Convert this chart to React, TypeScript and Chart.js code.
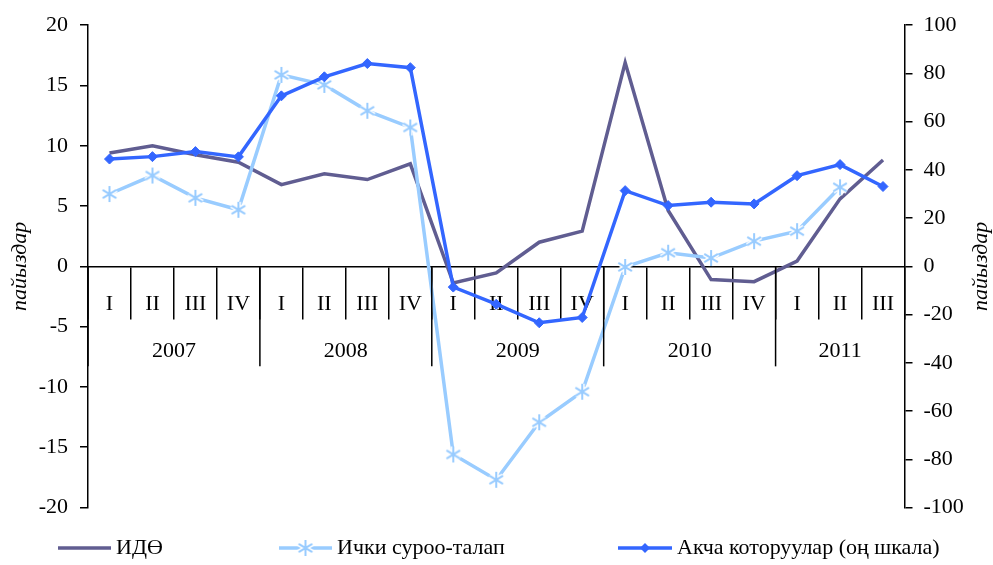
import React, { useEffect, useRef } from "react";
import { Chart, registerables } from "chart.js";

Chart.register(...registerables);

const quarters = ["I", "II", "III", "IV", "I", "II", "III", "IV", "I", "II", "III", "IV", "I", "II", "III", "IV", "I", "II", "III"];
const years = ["2007", "2008", "2009", "2010", "2011"];
const yearQuarterCounts = [4, 4, 4, 4, 3];

const gdp = [9.4, 10.0, 9.26, 8.63, 6.78, 7.67, 7.2, 8.5, -1.38, -0.55, 2.0, 2.92, 16.9, 4.63, -1.1, -1.27, 0.44, 5.6, 8.82];
const domesticDemand = [6.0, 7.53, 5.68, 4.69, 15.88, 15.05, 12.9, 11.52, -15.6, -17.7, -12.93, -10.4, -0.05, 1.13, 0.69, 2.09, 2.92, 6.56, null];
const remittances = [44.5, 45.5, 47.6, 45.4, 70.7, 78.6, 84.1, 82.4, -8.6, -15.7, -23.4, -21.2, 31.4, 25.2, 26.6, 25.9, 37.6, 42.2, 33.1];

const seriesNames = ["ИДӨ", "Ички суроо-талап", "Акча которуулар (оң шкала)"];
const axisTitle = "пайыздар";

const COL_GDP = "#605d91";
const COL_DEM = "#99ccff";
const COL_REM = "#3366ff";
const FONT = "'Liberation Serif', 'Times New Roman', serif";
const FS = 22;

function makeStar(size: number): HTMLCanvasElement {
  const c = document.createElement("canvas");
  c.width = size;
  c.height = size;
  const ctx = c.getContext("2d")!;
  const r = size / 2 - 4;
  const cx = size / 2;
  const drawStar = () => {
    ctx.beginPath();
    ctx.moveTo(cx, cx - r);
    ctx.lineTo(cx, cx + r);
    const d = r * 0.85;
    ctx.moveTo(cx - d, cx - d * 0.62);
    ctx.lineTo(cx + d, cx + d * 0.62);
    ctx.moveTo(cx - d, cx + d * 0.62);
    ctx.lineTo(cx + d, cx - d * 0.62);
    ctx.stroke();
  };
  ctx.lineCap = "butt";
  ctx.strokeStyle = "#ffffff";
  ctx.lineWidth = 5;
  drawStar();
  ctx.strokeStyle = COL_DEM;
  ctx.lineWidth = 2;
  drawStar();
  return c;
}

export default function App() {
  const ref = useRef<HTMLCanvasElement | null>(null);

  useEffect(() => {
    if (!ref.current) return;
    const star = makeStar(24);

    const extras = {
      id: "extras",
      afterDraw(chart: any) {
        const ctx = chart.ctx;
        const x = chart.scales.x;
        const y = chart.scales.y;
        const zero = y.getPixelForValue(0);
        ctx.save();
        ctx.strokeStyle = "#000";
        ctx.lineWidth = 1.5;
        ctx.fillStyle = "#000";
        ctx.font = `${FS}px ${FONT}`;
        ctx.textAlign = "center";
        ctx.textBaseline = "middle";
        let start = 0;
        for (let i = 0; i < years.length; i++) {
          const left = x.getPixelForValue(start - 0.5);
          const right = x.getPixelForValue(start + yearQuarterCounts[i] - 0.5);
          ctx.beginPath();
          ctx.moveTo(left, zero);
          ctx.lineTo(left, zero + 100);
          ctx.stroke();
          ctx.fillText(years[i], (left + right) / 2, zero + 85);
          start += yearQuarterCounts[i];
        }
        ctx.font = `italic ${FS}px ${FONT}`;
        const midY = (chart.chartArea.top + chart.chartArea.bottom) / 2;
        [20, 981].forEach((tx) => {
          ctx.save();
          ctx.translate(tx, midY);
          ctx.rotate(-Math.PI / 2);
          ctx.fillText(axisTitle, 0, 0);
          ctx.restore();
        });
        const ly = 548;
        ctx.font = `${FS}px ${FONT}`;
        ctx.textAlign = "left";
        ctx.lineWidth = 3.5;
        ctx.strokeStyle = COL_GDP;
        ctx.beginPath();
        ctx.moveTo(58, ly);
        ctx.lineTo(111, ly);
        ctx.stroke();
        ctx.fillText(seriesNames[0], 116, ly);
        ctx.strokeStyle = COL_DEM;
        ctx.beginPath();
        ctx.moveTo(279, ly);
        ctx.lineTo(332, ly);
        ctx.stroke();
        ctx.drawImage(star, 305.5 - 12, ly - 12);
        ctx.fillText(seriesNames[1], 337, ly);
        ctx.strokeStyle = COL_REM;
        ctx.beginPath();
        ctx.moveTo(618, ly);
        ctx.lineTo(672, ly);
        ctx.stroke();
        ctx.fillStyle = COL_REM;
        ctx.beginPath();
        ctx.moveTo(645, ly - 5);
        ctx.lineTo(650, ly);
        ctx.lineTo(645, ly + 5);
        ctx.lineTo(640, ly);
        ctx.closePath();
        ctx.fill();
        ctx.fillStyle = "#000";
        ctx.fillText(seriesNames[2], 677, ly);
        ctx.restore();
      },
    };

    const chart = new Chart(ref.current, {
      type: "line",
      data: {
        labels: quarters,
        datasets: [
          {
            label: seriesNames[0],
            data: gdp,
            yAxisID: "y",
            borderColor: COL_GDP,
            backgroundColor: COL_GDP,
            borderWidth: 3.5,
            pointRadius: 0,
            tension: 0,
            order: 2,
          },
          {
            label: seriesNames[1],
            data: domesticDemand,
            yAxisID: "y",
            borderColor: COL_DEM,
            backgroundColor: COL_DEM,
            borderWidth: 3.5,
            pointStyle: star as any,
            pointRadius: 12,
            tension: 0,
            order: 1,
          },
          {
            label: seriesNames[2],
            data: remittances,
            yAxisID: "y1",
            borderColor: COL_REM,
            backgroundColor: COL_REM,
            borderWidth: 3.5,
            pointStyle: "rectRot",
            pointRadius: 5,
            pointBorderWidth: 1,
            pointBorderColor: COL_REM,
            pointBackgroundColor: COL_REM,
            tension: 0,
            order: 0,
          },
        ],
      },
      options: {
        animation: false,
        responsive: true,
        maintainAspectRatio: false,
        layout: { padding: { top: 24, bottom: 57.5, left: 0, right: 0 } },
        plugins: { legend: { display: false }, tooltip: { enabled: false } },
        scales: {
          x: {
            type: "category",
            position: { y: 0 } as any,
            offset: true,
            afterFit: (s: any) => {
              s.height = 0;
            },
            grid: {
              display: true,
              drawOnChartArea: false,
              offset: true,
              tickLength: 52,
              color: "#000",
              lineWidth: 1.5,
            },
            border: { display: true, color: "#000", width: 1.5 },
            ticks: {
              autoSkip: false,
              maxRotation: 0,
              color: "#000",
              font: { family: FONT, size: FS },
              padding: -27,
            },
          },
          y: {
            position: "left",
            min: -20,
            max: 20,
            afterFit: (s: any) => {
              s.width = 88;
            },
            ticks: { stepSize: 5, color: "#000", font: { family: FONT, size: FS }, padding: 12 },
            grid: { drawOnChartArea: false, tickLength: 8, color: "#000", lineWidth: 1.5 },
            border: { color: "#000", width: 1.5 },
          },
          y1: {
            position: "right",
            min: -100,
            max: 100,
            afterFit: (s: any) => {
              s.width = 88.5;
            },
            ticks: { stepSize: 20, color: "#000", font: { family: FONT, size: FS }, padding: 11 },
            grid: { drawOnChartArea: false, tickLength: 8, color: "#000", lineWidth: 1.5 },
            border: { color: "#000", width: 1.5 },
          },
        },
      },
      plugins: [extras],
    });
    return () => chart.destroy();
  }, []);

  return (
    <div style={{ position: "fixed", left: 0, top: 0, width: 993, height: 565, background: "#fff" }}>
      <canvas ref={ref} />
    </div>
  );
}
